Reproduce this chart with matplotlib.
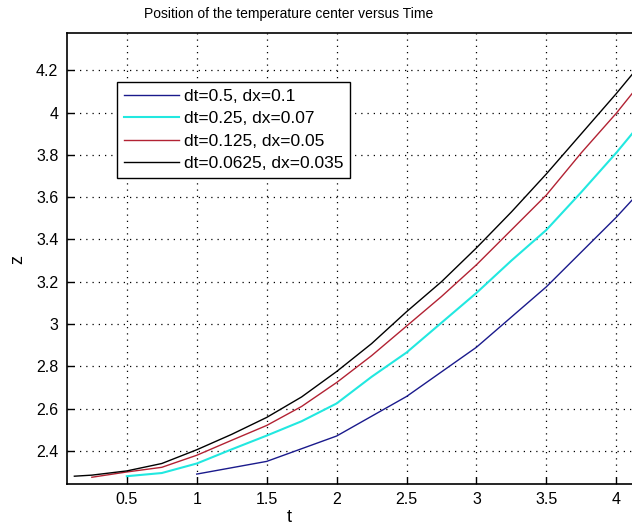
import matplotlib
matplotlib.use("Agg")
import matplotlib.pyplot as plt

plt.rcParams['font.family'] = ['Liberation Sans', 'DejaVu Sans']

# series
t_blue = [1.0, 1.5, 2.0, 2.5, 3.0, 3.5, 4.0, 4.125]
z_blue = [2.29, 2.35, 2.47, 2.657, 2.89, 3.176, 3.505, 3.595]

t_cyan = [0.5, 0.75, 1.0, 1.25, 1.5, 1.75, 2.0, 2.25, 2.5, 2.75, 3.0, 3.25, 3.5, 3.75, 4.0, 4.125]
z_cyan = [2.28, 2.295, 2.34, 2.407, 2.472, 2.54, 2.624, 2.75, 2.865, 3.006, 3.147, 3.30, 3.445, 3.624, 3.81, 3.91]

t_red = [0.25, 0.5, 0.75, 1.0, 1.25, 1.5, 1.75, 2.0, 2.25, 2.5, 2.75, 3.0, 3.25, 3.5, 3.75, 4.0, 4.125]
z_red = [2.275, 2.30, 2.322, 2.379, 2.45, 2.52, 2.61, 2.723, 2.85, 2.99, 3.13, 3.28, 3.445, 3.61, 3.81, 3.997, 4.10]

t_black = [0.125, 0.25, 0.5, 0.75, 1.0, 1.25, 1.5, 1.75, 2.0, 2.25, 2.5, 2.75, 3.0, 3.25, 3.5, 3.75, 4.0, 4.125]
z_black = [2.28, 2.285, 2.305, 2.34, 2.405, 2.478, 2.558, 2.655, 2.775, 2.907, 3.058, 3.2, 3.36, 3.53, 3.71, 3.90, 4.09, 4.19]

labels = ['dt=0.5, dx=0.1', 'dt=0.25, dx=0.07', 'dt=0.125, dx=0.05', 'dt=0.0625, dx=0.035']
colors = ['#1a1a8c', '#22e8e0', '#b22233', 'black']

xticks = [0.5, 1, 1.5, 2, 2.5, 3, 3.5, 4]
yticks = [2.4, 2.6, 2.8, 3, 3.2, 3.4, 3.6, 3.8, 4, 4.2]

fig = plt.figure(figsize=(6.32, 5.28), dpi=100)
# axes run past the right border, as in the cropped original
ax = fig.add_axes([0.1055, 0.0833, 0.925, 0.854])

ax.plot(t_blue, z_blue, color=colors[0], lw=1, label=labels[0])
ax.plot(t_cyan, z_cyan, color=colors[1], lw=1.5, label=labels[1])
ax.plot(t_red, z_red, color=colors[2], lw=1, label=labels[2])
ax.plot(t_black, z_black, color=colors[3], lw=1, label=labels[3])

ax.set_xlim(0.07, 4.25)
ax.set_ylim(2.243, 4.376)
ax.set_xticks(xticks)
ax.set_xticklabels(['0.5', '1', '1.5', '2', '2.5', '3', '3.5', '4'])
ax.set_yticks(yticks)
ax.set_yticklabels(['2.4', '2.6', '2.8', '3', '3.2', '3.4', '3.6', '3.8', '4', '4.2'])
ax.tick_params(direction='in', length=5, width=1, labelsize=11.5, pad=6)
ax.grid(True, color='black', linestyle=(0, (1, 4)), linewidth=0.9)
for sp in ax.spines.values():
    sp.set_linewidth(1.2)

leg = ax.legend(loc='upper left', bbox_to_anchor=(0.086, 0.891), fontsize=12.5,
                handlelength=3.2, handletextpad=0.3, labelspacing=0.42,
                borderpad=0.38, borderaxespad=0, fancybox=False, framealpha=1)
leg.get_frame().set_edgecolor('black')
leg.get_frame().set_linewidth(1.0)

fig.text(289 / 632, 1 - 14 / 528, 'Position of the temperature center versus Time',
         ha='center', va='center', fontsize=10)
fig.text(289 / 632, 1 - 518 / 528, 't', ha='center', va='center', fontsize=13)
fig.text(18 / 632, 1 - 260 / 528, 'z', ha='center', va='center', fontsize=13, rotation=90)

fig.savefig('out.png', dpi=100)
